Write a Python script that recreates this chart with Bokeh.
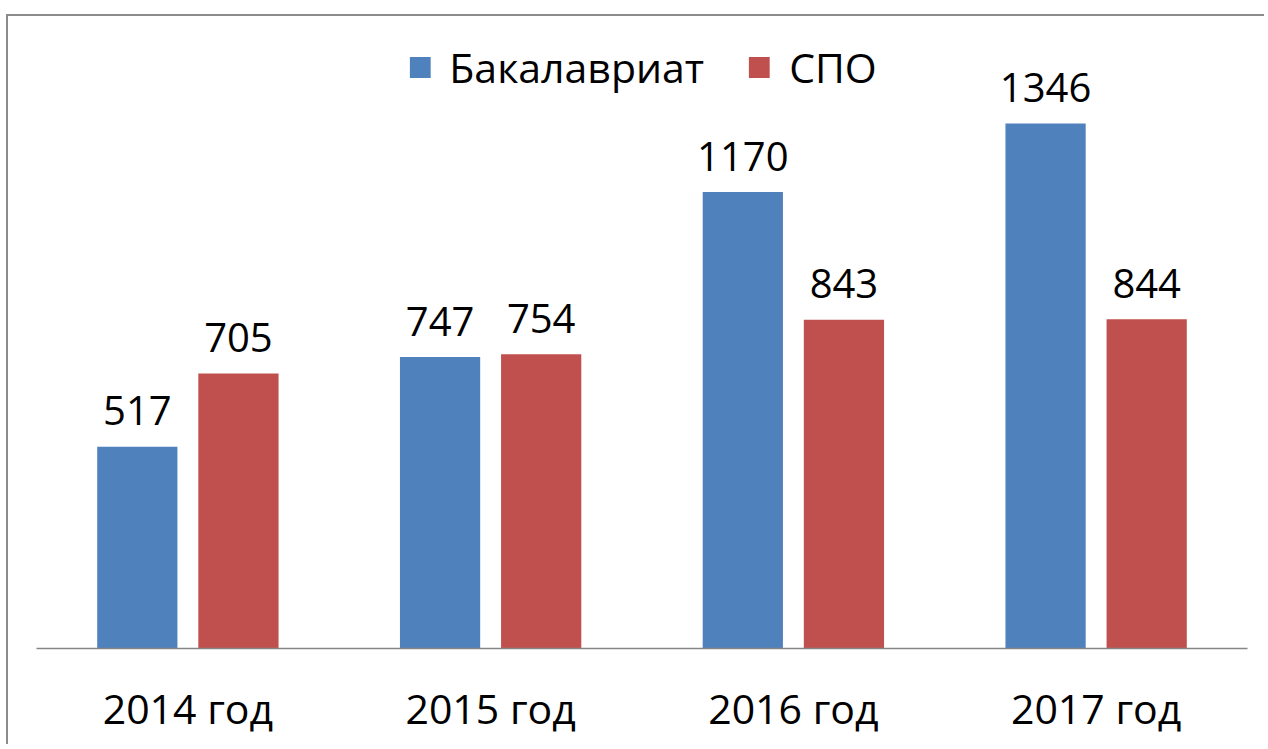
from bokeh.plotting import figure
from bokeh.models import ColumnDataSource, FactorRange, Range1d
from bokeh.transform import dodge
from bokeh.core.properties import value
from bokeh.embed import file_html
from bokeh.resources import INLINE

years = ["2014 год", "2015 год", "2016 год", "2017 год"]
bak = [517, 747, 1170, 1346]
spo = [705, 754, 843, 844]
series_names = ["Бакалавриат", "СПО"]

BLUE = "#4F81BD"
RED = "#C0504D"
FONT = "Open Sans"

src = ColumnDataSource(dict(
    year=years, bak=bak, spo=spo,
    bak_s=[str(v) for v in bak], spo_s=[str(v) for v in spo],
))

p = figure(
    x_range=FactorRange(factors=years, range_padding=0),
    y_range=Range1d(0, 1620),
    width=1258, height=730,
    output_backend="svg", toolbar_location=None,
    min_border_left=28, min_border_right=19, min_border_top=0, min_border_bottom=98,
)
p.styles = {"border-top": "2px solid #8c8c8c", "border-left": "2px solid #8c8c8c",
            "margin-top": "14px", "margin-left": "6px"}

p.vbar(x=dodge("year", -0.167, range=p.x_range), top="bak", width=0.265, source=src,
       fill_color=BLUE, line_color=None, legend_label=series_names[0])
p.vbar(x=dodge("year", 0.167, range=p.x_range), top="spo", width=0.265, source=src,
       fill_color=RED, line_color=None, legend_label=series_names[1])

for col, lab, off in (("bak", "bak_s", -0.167), ("spo", "spo_s", 0.167)):
    p.text(x=dodge("year", off, range=p.x_range), y=col, text=lab, source=src,
           text_font=value(FONT), text_font_size="40px", text_color="black",
           text_align="center", text_baseline="alphabetic", y_offset=-36)

p.xgrid.visible = False
p.ygrid.visible = False
p.yaxis.visible = False
p.outline_line_color = None

ax = p.xaxis[0]
ax.axis_line_color = "#868686"
ax.axis_line_width = 1.5
ax.major_tick_line_color = None
ax.minor_tick_line_color = None
ax.major_label_text_font = FONT
ax.major_label_text_font_size = "41px"
ax.major_label_text_color = "black"
ax.major_label_standoff = 25

lg = p.legend[0]
lg.location = "top_center"
lg.orientation = "horizontal"
lg.label_text_font = FONT
lg.label_text_font_size = "41px"
lg.label_text_color = "black"
lg.glyph_width = 26
lg.glyph_height = 26
lg.label_standoff = 17
lg.spacing = 42
lg.border_line_color = None
lg.background_fill_alpha = 0
lg.padding = 0
lg.margin = 23

open("out.html", "w").write(file_html(p, INLINE))
